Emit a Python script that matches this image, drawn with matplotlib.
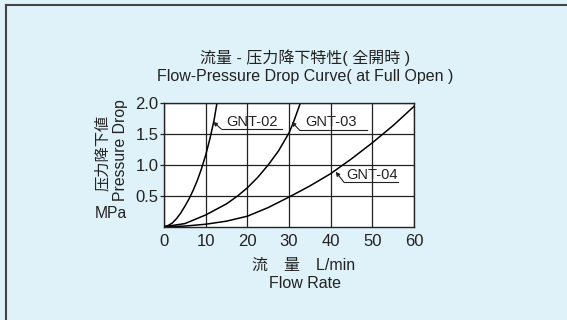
import matplotlib
matplotlib.use("Agg")
import matplotlib.pyplot as plt
from matplotlib.lines import Line2D

# curve data
gnt02_x = [0, 1, 2, 3, 4, 5, 6, 7, 8, 9, 10, 11, 12, 12.7]
gnt02_y = [0, 0.02, 0.06, 0.13, 0.22, 0.33, 0.45, 0.59, 0.75, 0.94, 1.16, 1.42, 1.72, 2.0]

gnt03_x = [0, 5, 10, 15, 17.7, 20, 22.5, 25, 27.5, 30, 31, 32.7]
gnt03_y = [0, 0.05, 0.19, 0.37, 0.5, 0.63, 0.8, 1.0, 1.23, 1.52, 1.68, 2.0]

gnt04_x = [0, 5, 10, 15, 20, 25, 30, 35, 40, 45, 50, 55, 60]
gnt04_y = [0, 0.01, 0.04, 0.09, 0.17, 0.31, 0.48, 0.66, 0.86, 1.1, 1.36, 1.64, 1.95]

names = ["GNT-02", "GNT-03", "GNT-04"]
# arrow tip, leader corner, leader end x, text position (data units)
label_tips = [(11.8, 1.70), (30.6, 1.70), (41.2, 0.89)]
label_corners = [(13.8, 1.58), (32.6, 1.56), (43.2, 0.72)]
label_ends = [28.2, 48.6, 56.2]
label_text = [(21.2, 1.70), (40.2, 1.70), (50.0, 0.83)]

x_ticks = [0, 10, 20, 30, 40, 50, 60]
y_ticks = [0.5, 1.0, 1.5, 2.0]

plt.rcParams['font.family'] = ["Liberation Sans", "Noto Sans CJK JP"]
bg = "#dff2fa"
ink = "#222222"

fig = plt.figure(figsize=(5.67, 3.2), dpi=100, facecolor=bg)
ax = fig.add_axes([164 / 567, 1 - 226.7 / 320, 250 / 567, 123.4 / 320])
ax.set_facecolor("white")

for xs, ys in [(gnt02_x, gnt02_y), (gnt03_x, gnt03_y), (gnt04_x, gnt04_y)]:
    ax.plot(xs, ys, color="black", lw=1.1, solid_joinstyle="round")

for name, tip, corner, end, txt in zip(names, label_tips, label_corners, label_ends, label_text):
    ax.plot([corner[0], end], [corner[1], corner[1]], color=ink, lw=0.8)
    ax.annotate("", xy=tip, xytext=corner,
                arrowprops=dict(arrowstyle="-|>", color=ink, lw=0.8,
                                mutation_scale=6, shrinkA=0, shrinkB=0))
    ax.text(txt[0], txt[1], name, ha="center", va="center", fontsize=10.5, color=ink)

ax.set_xlim(0, 60)
ax.set_ylim(0, 2.0)
ax.set_xticks(x_ticks)
ax.set_yticks(y_ticks)
ax.set_xticklabels([str(t) for t in x_ticks])
ax.set_yticklabels([f"{t:.1f}" for t in y_ticks])
ax.grid(True, color=ink, lw=0.9)
ax.tick_params(axis="both", labelsize=12, colors=ink, length=3, width=0.9)
ax.tick_params(axis="x", length=0, pad=5)
ax.tick_params(axis="y", pad=1)
for s in ax.spines.values():
    s.set_color(ink)
    s.set_linewidth(1.0)

# titles and axis labels
fig.text(305 / 567, 1 - 58 / 320, "流量 - 压力降下特性( 全開時 )", ha="center", va="center",
         fontsize=11.5, color=ink)
fig.text(305 / 567, 1 - 77 / 320, "Flow-Pressure Drop Curve( at Full Open )", ha="center",
         va="center", fontsize=11.5, color=ink)
fig.text(304 / 567, 1 - 265 / 320, "流　量　L/min", ha="center", va="center",
         fontsize=11.5, color=ink)
fig.text(305 / 567, 1 - 284 / 320, "Flow Rate", ha="center", va="center",
         fontsize=11.5, color=ink)
fig.text(103 / 567, 1 - 153 / 320, "压力降下値", ha="center", va="center", rotation=90,
         fontsize=11, color=ink)
fig.text(121 / 567, 1 - 150 / 320, "Pressure Drop", ha="center", va="center", rotation=90,
         fontsize=11.3, color=ink)
fig.text(111 / 567, 1 - 213 / 320, "MPa", ha="center", va="center",
         fontsize=11.3, color=ink)

# frame on top and left edge
fig.add_artist(Line2D([6 / 567, 6 / 567], [0, 1 - 5 / 320], transform=fig.transFigure,
                      color="#444444", lw=1.5))
fig.add_artist(Line2D([6 / 567, 1], [1 - 5 / 320, 1 - 5 / 320], transform=fig.transFigure,
                      color="#444444", lw=1.5))

fig.savefig("out.png", dpi=100, facecolor=bg)
